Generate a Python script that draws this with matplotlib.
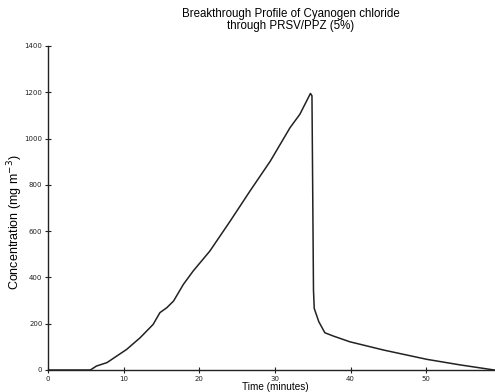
import matplotlib
matplotlib.use("Agg")
import matplotlib.pyplot as plt

time_min = [0, 5.6, 6.4, 7.8, 10.4, 12.2, 13.9, 14.8, 15.7, 16.6, 17.9, 19.2, 21.4,
            24.1, 26.7, 29.4, 32.0, 33.3, 34.7, 34.9, 35.1, 35.2, 35.8, 36.6, 37.7,
            39.9, 44.4, 50.1, 54.5, 59.0]
conc = [0, 0, 17, 32, 89, 140, 197, 248, 269, 298, 370, 428, 514,
        644, 773, 903, 1047, 1105, 1195, 1185, 346, 266, 209, 161, 147,
        122, 86, 46, 22, 0]
x_ticks = [0, 10, 20, 30, 40, 50]
y_ticks = [0, 200, 400, 600, 800, 1000, 1200, 1400]

W, H = 495, 392
fig = plt.figure(figsize=(W / 100, H / 100), dpi=100)
ax = fig.add_axes([48 / W, (H - 370) / H, (W - 48) / W, (370 - 46) / H])
ax.plot(time_min, conc, color="#222222", lw=1.1)
ax.set_xlim(0, 59.1)
ax.set_ylim(0, 1400)
ax.set_xticks(x_ticks)
ax.set_yticks(y_ticks)
for s in ("top", "right"):
    ax.spines[s].set_visible(False)
for s in ("left", "bottom"):
    ax.spines[s].set_linewidth(1.0)
    ax.spines[s].set_color("#222222")
ax.tick_params(direction="inout", length=4, width=0.8, labelsize=5, pad=2, colors="#222222")
fig.text(291 / W, 1 - 20 / H, "Breakthrough Profile of Cyanogen chloride\nthrough PRSV/PPZ (5%)",
         ha="center", va="center", fontsize=8.3, family="Liberation Sans", linespacing=1.1)
fig.text(275 / W, 1 - 387 / H, "Time (minutes)", ha="center", va="center",
         fontsize=7.2, family="Liberation Sans")
fig.text(15 / W, 1 - 222 / H, "Concentration (mg m$^{-3}$)", ha="center", va="center",
         rotation=90, fontsize=9, family="Liberation Sans")
fig.savefig("out.png", dpi=100)
